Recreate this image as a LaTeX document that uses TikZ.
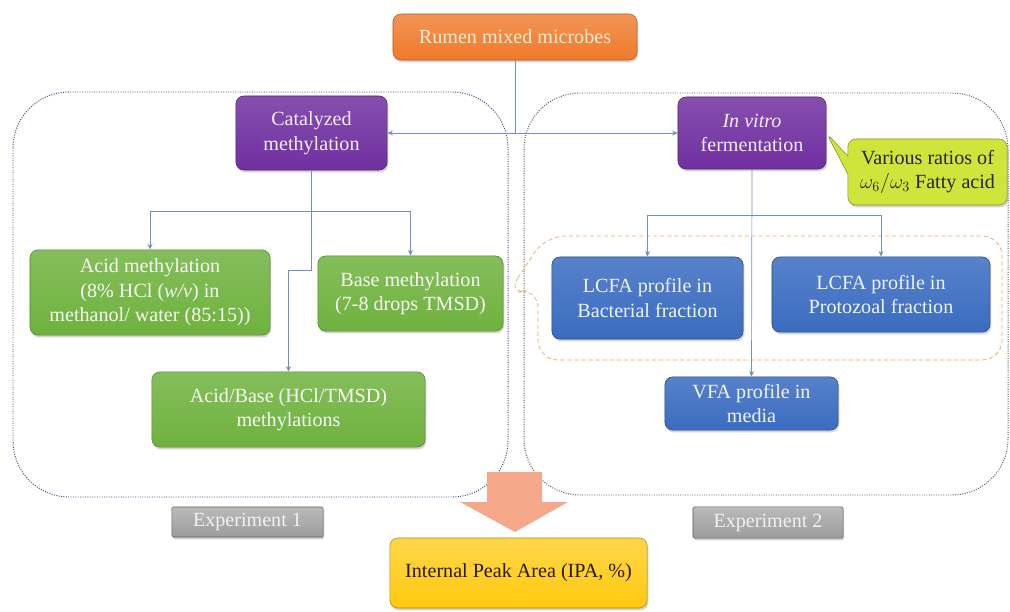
\documentclass[tikz,border=0pt]{standalone}
\usepackage{fontspec}
\setmainfont{Liberation Serif}
\newfontfamily\flowfont{Liberation Serif}
\usetikzlibrary{arrows.meta,shadows,shapes.callouts}

\definecolor{rumenorange}{HTML}{EF7A2B}
\definecolor{methpurple}{HTML}{7030A0}
\definecolor{methgreen}{HTML}{6FB23E}
\definecolor{profblue}{HTML}{3A6CC0}
\definecolor{notelime}{HTML}{CFE53C}
\definecolor{expgrey}{HTML}{9C9C9C}
\definecolor{ipagold}{HTML}{FFC90E}
\definecolor{linkblue}{HTML}{6F91BC}
\definecolor{bigarrow}{HTML}{F6A88A}

\tikzset{
	box/.style={rectangle, rounded corners=0.2cm, align=center, inner sep=2pt,
		font=\flowfont\fontsize{14.3}{17.5}\selectfont,
		drop shadow={shadow xshift=0.8pt, shadow yshift=-1.6pt, opacity=0.35}},
	rumenbox/.style={box, draw=rumenorange!75!black, top color=rumenorange!80!white, bottom color=rumenorange, text=orange!15!white},
	purplebox/.style={box, draw=methpurple!70!black, top color=methpurple!85!white, bottom color=methpurple, text=white!92!methpurple},
	greenbox/.style={box, draw=methgreen!75!black, top color=methgreen!85!white, bottom color=methgreen, text=white!94!methgreen},
	bluebox/.style={box, draw=profblue!65!black, top color=profblue!85!white, bottom color=profblue, text=white!93!profblue},
	expbox/.style={box, rounded corners=1pt, draw=expgrey!60!black, top color=expgrey!70!white, bottom color=expgrey, text=white!95!black},
	ipabox/.style={box, draw=ipagold!70!black, top color=ipagold!75!white, bottom color=ipagold, text=black!80!brown},
	notebox/.style={box, rectangle callout, callout pointer width=0.45cm, draw=notelime!65!black, fill=notelime, text=black!85},
	link/.style={draw=linkblue, line width=0.5pt, -{Stealth[length=4pt,width=3.5pt]}},
	frame/.style={draw=#1, line width=0.7pt, densely dotted, rounded corners=1.4cm},
}

\begin{document}
\begin{tikzpicture}[x=0.025cm, y=-0.025cm]
		%%%%% START %%%%%
		\useasboundingbox (0,0) rectangle (1010,611);
		
		% experiment frames
		\draw[frame=black!35!blue!45!gray] (13,92) rectangle (508,497);
		\draw[frame=black!65] (524,93) rectangle (1008,495);
		\draw[draw=orange!60!brown!70, line width=0.5pt, densely dashed, rounded corners=0.5cm]
			(507,295) -- (545,236) -- (1002,236) -- (1002,360) -- (538,360) -- (538,288) -- cycle;
		
		% top
		\node[rumenbox, minimum width=6.1cm, minimum height=1.15cm] (rumen) at (515,37) {Rumen mixed microbes};
		\node[purplebox, minimum width=3.78cm, minimum height=1.85cm] (cat) at (311.5,133) {Catalyzed\\methylation};
		\node[purplebox, minimum width=3.7cm, minimum height=1.8cm] (vitro) at (752,133) {\textit{In vitro}\\fermentation};
		\node[notebox, minimum width=3.98cm, minimum height=1.65cm, callout absolute pointer={(vitro.east)}] (ratio) at (927.5,172) {Various ratios of\\$\omega_{6}/\omega_{3}$ Fatty acid};
		
		% experiment 1
		\node[greenbox, minimum width=6cm, minimum height=2.13cm] (acid) at (150,292.5) {Acid methylation\\(8\% HCl (\textit{w/v}) in\\methanol/ water (85:15))};
		\node[greenbox, minimum width=4.63cm, minimum height=1.88cm] (base) at (410.5,293.5) {Base methylation\\(7-8 drops TMSD)};
		\node[greenbox, minimum width=6.83cm, minimum height=1.88cm] (acidbase) at (288.5,409.5) {Acid/Base (HCl/TMSD)\\methylations};
		
		% experiment 2
		\node[bluebox, minimum width=4.78cm, minimum height=2.05cm] (lcfab) at (647.5,298) {LCFA profile in\\Bacterial fraction};
		\node[bluebox, minimum width=5.45cm, minimum height=1.88cm] (lcfap) at (881,294.5) {LCFA profile in\\Protozoal fraction};
		\node[bluebox, minimum width=4.33cm, minimum height=1.33cm] (vfa) at (751.5,403.5) {VFA profile in\\media};
		
		% bottom
		\node[expbox, minimum width=3.78cm, minimum height=0.75cm] (exp1) at (247.5,522) {Experiment 1};
		\node[expbox, minimum width=3.75cm, minimum height=0.78cm] (exp2) at (768,522.5) {Experiment 2};
		\node[ipabox, minimum width=6.43cm, minimum height=1.75cm] (ipa) at (518.5,573) {Internal Peak Area (IPA, \%)};
		\fill[bigarrow] (487,472) -- (542,472) -- (542,502) -- (568,502) -- (515,532) -- (460,502) -- (487,502) -- cycle;
		
		% connectors
		\coordinate (catj) at (311.5,211);
		\coordinate (catk) at (311.5,270);
		\coordinate (vitj) at (752,215);
		\draw[link, -] (rumen.south) -- (rumen.south |- cat.east);
		\draw[link, {Stealth[length=4pt,width=3.5pt]}-{Stealth[length=4pt,width=3.5pt]}] (cat.east) -- (vitro.west);
		\draw[link, -] (cat.south) -- (catj);
		\draw[link] (catj) -| (acid.north);
		\draw[link] (catj) -| (base.north);
		\draw[link] (catj) -- (catk) -| (acidbase.north);
		\draw[link] (vitro.south) -- (vfa.north);
		\draw[link] (vitj) -| (lcfab.north);
		\draw[link] (vitj) -| (lcfap.north);
		
		%%%%% END %%%%%
\end{tikzpicture}
\end{document}
